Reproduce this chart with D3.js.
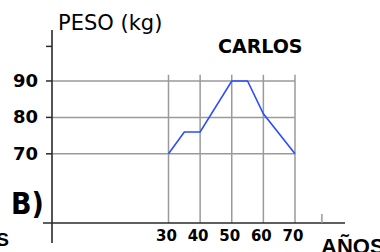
<!DOCTYPE html>
<html><head><meta charset="utf-8">
<script src="https://cdn.jsdelivr.net/npm/d3@7"></script>
<style>html,body{margin:0;padding:0;background:#fff;overflow:hidden}</style>
</head><body>
<svg id="c" width="380" height="252"></svg>
<script>
const ages = [30, 35, 40, 50, 55, 60, 70];
const weights = [70, 76, 76, 90, 90, 81, 70];
const xTicks = [30, 40, 50, 60, 70];
const yTicks = [70, 80, 90];
const yExtraTicks = [99.5];
const xExtraTicks = [78.5];
const seriesName = "CARLOS";
const yTitle = "PESO (kg)";
const xTitle = "AÑOS";
const panelLabel = "B)";

const svg = d3.select("#c");
const x = d3.scaleLinear().domain([30, 70]).range([168.5, 295]);
const y = d3.scaleLinear().domain([51, 104]).range([223, 30]);
const axisX = 52;
const gridCol = "#9a9a9a", axisCol = "#2a2a2a";
const font = "'DejaVu Sans', Verdana, sans-serif";

// horizontal grid
svg.append("g").selectAll("line").data(yTicks).join("line")
  .attr("x1", axisX).attr("x2", x(70))
  .attr("y1", d => y(d)).attr("y2", d => y(d))
  .attr("stroke", gridCol).attr("stroke-width", 1.5);
// vertical grid
svg.append("g").selectAll("line").data(xTicks).join("line")
  .attr("x1", d => x(d)).attr("x2", d => x(d))
  .attr("y1", y(91.7)).attr("y2", y(51))
  .attr("stroke", gridCol).attr("stroke-width", 1.5);

// axes
svg.append("line").attr("x1", axisX).attr("x2", axisX)
  .attr("y1", y(104)).attr("y2", y(51) + 20)
  .attr("stroke", axisCol).attr("stroke-width", 1.6);
svg.append("line").attr("x1", 43).attr("x2", 345)
  .attr("y1", y(51)).attr("y2", y(51))
  .attr("stroke", axisCol).attr("stroke-width", 1.6);
// y tick marks
svg.append("g").selectAll("line").data(yTicks.concat(yExtraTicks)).join("line")
  .attr("x1", axisX - 6).attr("x2", axisX)
  .attr("y1", d => y(d)).attr("y2", d => y(d))
  .attr("stroke", axisCol).attr("stroke-width", 1.5);
// extra x tick
svg.append("g").selectAll("line").data(xExtraTicks).join("line")
  .attr("x1", d => x(d)).attr("x2", d => x(d))
  .attr("y1", y(51) - 9).attr("y2", y(51))
  .attr("stroke", gridCol).attr("stroke-width", 1.5);

// line
svg.append("path").datum(ages.map((a, i) => [a, weights[i]]))
  .attr("d", d3.line().x(d => x(d[0])).y(d => y(d[1])))
  .attr("fill", "none").attr("stroke", "#2a4dff").attr("stroke-width", 1.6);

// y labels
svg.append("g").selectAll("text").data(yTicks).join("text")
  .attr("x", 38).attr("y", d => y(d) + 1)
  .attr("text-anchor", "end").attr("dominant-baseline", "middle")
  .attr("font-family", font).attr("font-weight", "bold").attr("font-size", 18)
  .text(d => d);
// x labels
svg.append("g").selectAll("text").data(xTicks).join("text")
  .attr("x", d => x(d) - 2).attr("y", 241)
  .attr("text-anchor", "middle")
  .attr("font-family", font).attr("font-weight", "bold").attr("font-size", 15)
  .text(d => d);

svg.append("text").attr("x", 58).attr("y", 30)
  .attr("font-family", font).attr("font-size", 21).text(yTitle);
svg.append("text").attr("x", 218).attr("y", 53)
  .attr("font-family", font).attr("font-weight", "bold").attr("font-size", 19).text(seriesName);
svg.append("text").attr("x", 321).attr("y", 254)
  .attr("font-family", "'Liberation Sans', Arial, sans-serif").attr("font-weight", "bold")
  .attr("font-size", 22).text(xTitle);
svg.append("text").attr("x", 9).attr("y", 246).attr("text-anchor", "end")
  .attr("font-family", "'Liberation Sans', Arial, sans-serif").attr("font-weight", "bold")
  .attr("font-size", 19).text(xTitle);
svg.append("text").attr("x", 11).attr("y", 214)
  .attr("font-family", "'Liberation Sans Narrow', 'DejaVu Sans Condensed', sans-serif")
  .attr("font-weight", "bold").attr("font-size", 30).text(panelLabel);
</script>
</body></html>
